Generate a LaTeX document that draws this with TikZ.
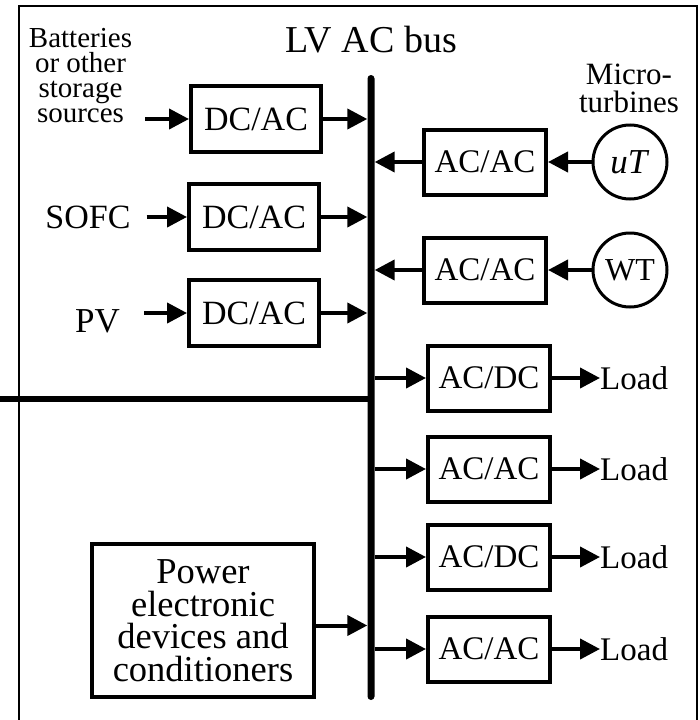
\documentclass[tikz,border=0pt]{standalone}
\usepackage{fontspec}
\setmainfont{Liberation Serif}
\usetikzlibrary{arrows.meta}
\begin{document}
\begin{tikzpicture}[x=1pt,y=-1pt,
  conv/.style={draw, line width=4pt, minimum width=130pt, minimum height=66pt, inner sep=0pt, font=\fontsize{34}{34}\selectfont},
  convr/.style={conv, minimum width=122pt, minimum height=65pt, font=\fontsize{33}{33}\selectfont},
  src/.style={draw, circle, line width=3pt, minimum size=74pt, inner sep=0pt},
  lbl/.style={inner sep=0pt, font=\fontsize{34}{34}\selectfont},
  arr/.style={line width=4pt, -{Triangle[length=20pt,width=20pt]}},
  busline/.style={fill=black, minimum width=7pt, minimum height=625pt, inner sep=0pt, rounded corners=3.5pt},
]
\useasboundingbox (0,0) rectangle (700,720);
% frame
\draw[line width=2pt] (19,730) -- (19,6) -- (697,6) -- (697,730);
% bus
\node[lbl, font=\fontsize{38}{38}\selectfont, anchor=base] (title) at (371,52) {LV AC bus};
\node[busline] (bus) at (371,387.5) {};
\coordinate (gl) at (0,399);
\draw[line width=6pt] (gl) -- (gl -| bus.center);
% left sources
\node[conv] (d1) at (256,119) {DC/AC};
\node[conv] (d2) at (254,217) {DC/AC};
\node[conv] (d3) at (254,313) {DC/AC};
\node[lbl, font=\fontsize{29}{25}\selectfont, align=center, anchor=north] (bat) at (80.5,28) {Batteries\\or other\\storage\\sources};
\node[lbl, anchor=base] (sofc) at (88,228) {SOFC};
\node[lbl, font=\fontsize{35}{35}\selectfont, anchor=base] (pv) at (97.5,332) {PV};
\coordinate (s1) at (145,119);
\draw[arr] (s1) -- (d1.west);
\draw[arr] ([xshift=16pt]sofc.east |- d2.west) -- (d2.west);
\draw[arr] ([xshift=24pt]pv.east |- d3.west) -- (d3.west);
\draw[arr] (d1.east) -- (d1.east -| bus.west);
\draw[arr] (d2.east) -- (d2.east -| bus.west);
\draw[arr] (d3.east) -- (d3.east -| bus.west);
% right sources
\node[lbl, font=\fontsize{31}{28}\selectfont, align=center, anchor=north] (mt) at (629,64) {Micro-\\turbines};
\node[convr] (a1) at (485,162) {AC/AC};
\node[convr] (a2) at (485,270) {AC/AC};
\node[src, font=\fontsize{35}{35}\selectfont] (ut) at (630,162) {\textit{uT}};
\node[src, font=\fontsize{32}{32}\selectfont] (wt) at (630,270) {WT};
\draw[arr] (ut.west) -- (a1.east);
\draw[arr] (wt.west) -- (a2.east);
\draw[arr] (a1.west) -- (a1.west -| bus.east);
\draw[arr] (a2.west) -- (a2.west -| bus.east);
% loads
\node[convr] (l1) at (489,378) {AC/DC};
\node[convr] (l2) at (489,469) {AC/AC};
\node[convr] (l3) at (489,557) {AC/DC};
\node[convr] (l4) at (489,649) {AC/AC};
\foreach \i in {1,2,3,4}{
  \node[lbl, font=\fontsize{33}{33}\selectfont, anchor=west] (ld\i) at (600,0 |- l\i.center) {Load};
  \draw[arr] (l\i.west -| bus.east) -- (l\i.west);
  \draw[arr] (l\i.east) -- (ld\i.west);
}
% power electronics
\node[conv, minimum width=222pt, minimum height=153pt, align=center, font=\fontsize{36.5}{32.5}\selectfont] (pe) at (203,620.5) {Power\\electronic\\devices and\\conditioners};
\draw[arr] ([yshift=-5pt]pe.east) -- ([yshift=-5pt]pe.east -| bus.west);
\end{tikzpicture}
\end{document}
